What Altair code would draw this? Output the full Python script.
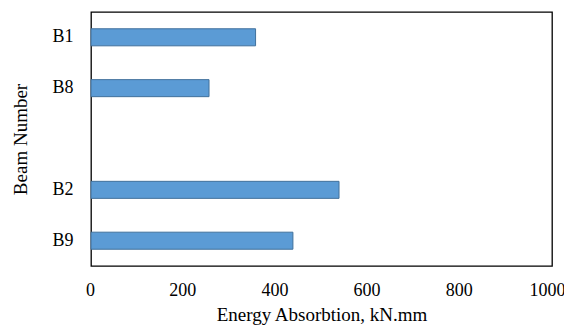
import altair as alt
import pandas as pd

beams = ["B1", "B8", "B2", "B9"]
energy = [357, 256, 538, 438]
order = ["B1", "B8", " ", "B2", "B9"]

df = pd.DataFrame({"beam": beams, "energy": energy})

FONT = "Liberation Serif"

chart = alt.Chart(df).mark_bar(
    color="#5B9BD5", stroke="#41719C", strokeWidth=1
).encode(
    x=alt.X("energy:Q", scale=alt.Scale(domain=[0, 1000]),
            axis=alt.Axis(values=[0, 200, 400, 600, 800, 1000], format="d",
                          grid=False, ticks=False,
                          domain=False, labelPadding=15, labelFontSize=18, labelFont=FONT,
                          labelColor="#000", labelFlush=False,
                          labelOffset={"condition": {"test": "datum.value == 1000", "value": -5}, "value": -1},
                          title="Energy Absorbtion, kN.mm",
                          titleFont=FONT, titleFontSize=19, titleFontWeight="normal",
                          titleColor="#000", titlePadding=6)),
    y=alt.Y("beam:N", scale=alt.Scale(domain=order, paddingInner=0.665, paddingOuter=0.33),
            axis=alt.Axis(grid=False, ticks=False, domain=False, labelPadding=18,
                          labelFontSize=18, labelFont=FONT, labelColor="#000",
                          title="Beam Number", titleFont=FONT, titleFontSize=19,
                          titleFontWeight="normal", titleColor="#000", titlePadding=21)),
).properties(
    width=461, height=254,
    autosize=alt.AutoSizeParams(type="none"),
    padding={"left": 83, "top": 4, "right": 12, "bottom": 60},
).configure_view(
    stroke="#000", strokeWidth=1.3
)

chart.save("out.html", embed_options={"renderer": "svg", "actions": False})
